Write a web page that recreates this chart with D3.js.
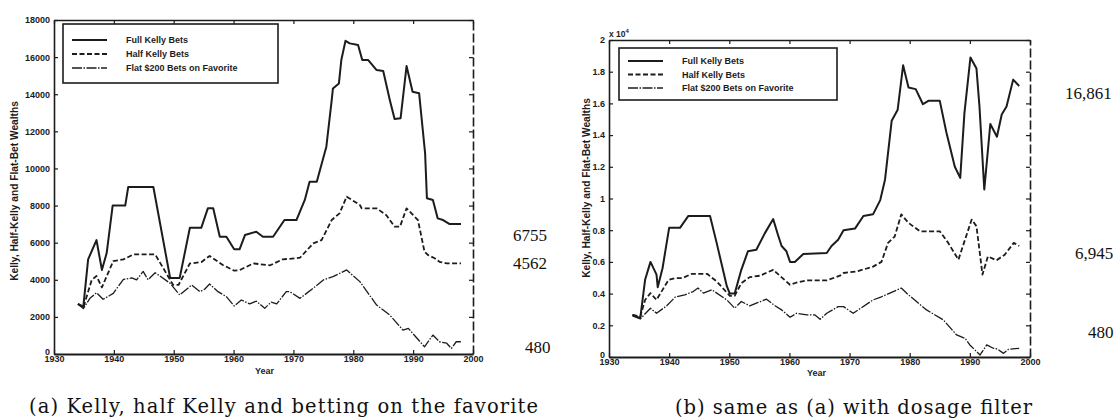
<!DOCTYPE html>
<html><head><meta charset="utf-8">
<script src="https://cdn.jsdelivr.net/npm/d3@7"></script>
<style>body{margin:0;background:#fff}svg{display:block}</style>
</head><body>
<svg id="c" width="1114" height="419"></svg>
<script>
// ---------- DATA ----------
const xTickYears = [1930, 1940, 1950, 1960, 1970, 1980, 1990, 2000];
const aYTicks = [0, 2000, 4000, 6000, 8000, 10000, 12000, 14000, 16000, 18000];
const bYTicks = [0, 2000, 4000, 6000, 8000, 10000, 12000, 14000, 16000, 18000, 20000];
const seriesNames = ["Full Kelly Bets", "Half Kelly Bets", "Flat $200 Bets on Favorite"];

// Panel (a): Kelly, half Kelly and betting on the favorite
const aFullYears = [1934.0,1934.9,1935.7,1937.1,1938.0,1938.8,1939.8,1941.9,1942.4,1946.6,1949.4,1951.0,1952.7,1954.6,1955.7,1956.6,1957.7,1958.8,1960.1,1961.0,1961.9,1963.8,1964.9,1966.6,1968.5,1970.5,1971.9,1972.7,1973.9,1975.5,1976.4,1976.6,1977.6,1978.0,1978.7,1979.4,1980.8,1981.5,1982.5,1983.9,1985.0,1986.1,1986.9,1987.9,1988.9,1989.9,1991.0,1992.0,1992.3,1993.3,1994.1,1995.0,1996.1,1998.0];
const aFullValues = [2700,2550,5100,6140,4530,5440,8000,8000,9000,9000,4100,4100,6800,6800,7850,7850,6320,6320,5640,5640,6410,6590,6320,6320,7220,7220,8300,9280,9280,11170,13690,14310,14580,15840,16880,16740,16650,15840,15840,15300,15250,13690,12660,12700,15520,14130,14050,10810,8390,8300,7310,7220,7000,7000];

const aHalfYears = [1934.0,1934.9,1936.3,1937.1,1938.0,1939.9,1941.6,1943.3,1946.9,1949.9,1950.8,1952.7,1954.6,1956.0,1958.2,1960.1,1961.0,1963.3,1966.1,1968.2,1970.5,1971.1,1973.3,1974.7,1976.4,1977.7,1978.9,1981.1,1981.4,1983.9,1985.5,1986.9,1987.8,1988.9,1990.0,1990.8,1991.9,1992.5,1993.6,1994.4,1995.6,1998.0];
const aHalfValues = [2700,2500,3990,4200,3590,5010,5100,5370,5370,3720,3720,4880,4950,5280,4800,4490,4520,4880,4780,5100,5160,5190,5960,6140,7220,7580,8480,8030,7850,7850,7490,6860,6860,7850,7490,7220,5510,5330,5160,4970,4880,4880];

const aFlatYears = [1934.0,1934.9,1936.0,1937.1,1938.2,1939.3,1939.9,1941.6,1943.0,1943.8,1944.9,1945.7,1946.9,1947.7,1949.4,1951.0,1951.8,1953.0,1954.4,1955.2,1956.0,1957.4,1958.8,1960.1,1961.3,1962.7,1963.8,1965.2,1966.3,1967.2,1968.8,1969.4,1971.1,1973.3,1975.0,1976.6,1978.9,1981.1,1983.9,1986.1,1988.3,1989.2,1991.9,1993.3,1994.4,1995.6,1996.4,1997.2,1998.0];
const aFlatValues = [2700,2450,3000,3300,2950,3150,3270,4020,4100,4000,4450,4000,4380,4200,3810,3180,3400,3720,3360,3500,3770,3360,3090,2590,2910,2700,2850,2460,2800,2700,3360,3360,3000,3540,3990,4170,4530,3900,2640,2100,1290,1380,390,1020,660,580,300,660,660];

const aEndLabels = ["6755", "4562", "480"];

// Panel (b): same as (a) with dosage filter
const bFullYears = [1933.9,1935.2,1936.0,1936.9,1937.9,1938.1,1938.9,1940.0,1941.8,1943.2,1946.8,1947.9,1949.6,1950.1,1950.9,1952.0,1953.1,1954.5,1955.9,1957.3,1958.1,1958.7,1959.5,1960.1,1960.9,1962.3,1966.2,1967.0,1968.1,1969.0,1970.9,1972.3,1973.9,1975.1,1975.9,1977.0,1978.0,1978.9,1979.8,1981.0,1982.2,1983.1,1985.0,1986.1,1987.5,1988.4,1989.1,1990.1,1991.1,1991.6,1992.4,1993.4,1994.5,1995.3,1996.1,1997.2,1998.2];
const bFullValues = [2660,2450,4870,6000,5200,4400,5600,8150,8150,8900,8900,7200,4450,4000,4000,5500,6670,6770,7800,8700,7700,7000,6670,6000,6000,6500,6560,7000,7400,8000,8100,8900,9000,9900,11200,14900,15600,18400,17000,16900,15950,16160,16160,14160,12000,11300,15400,18900,18200,15800,10570,14700,13900,15300,15800,17500,17100];

const bHalfYears = [1933.9,1935.2,1936.0,1936.9,1937.9,1939.9,1941.0,1942.2,1943.8,1946.3,1947.9,1950.1,1950.9,1952.0,1953.4,1955.1,1957.3,1958.4,1960.1,1961.2,1962.9,1966.2,1968.4,1969.0,1971.2,1973.9,1975.3,1976.4,1977.5,1978.6,1979.8,1981.7,1985.0,1986.4,1988.1,1990.3,1991.1,1992.1,1993.0,1994.4,1995.8,1997.3,1998.2];
const bHalfValues = [2660,2550,3600,4030,3600,4870,4980,4980,5250,5250,4770,3860,3860,4660,5040,5130,5500,5130,4560,4700,4830,4830,5130,5300,5400,5700,6000,7200,7600,9000,8460,7930,7930,7200,6140,8670,8250,5200,6350,6100,6450,7200,7000];

const bFlatYears = [1933.9,1935.2,1936.9,1937.9,1939.6,1941.0,1942.6,1944.0,1944.8,1945.7,1947.1,1949.6,1950.9,1952.0,1953.4,1954.8,1956.2,1957.6,1958.7,1960.1,1961.2,1962.9,1964.2,1965.1,1966.2,1968.1,1969.0,1970.6,1973.9,1975.3,1978.6,1979.8,1982.8,1985.6,1987.8,1989.2,1990.0,1991.7,1992.8,1993.9,1994.6,1995.6,1996.4,1998.2];
const bFlatValues = [2600,2400,3080,2760,3230,3780,3920,4130,4350,4030,4240,3600,3080,3500,3230,3440,3650,3230,2970,2510,2760,2660,2660,2380,2760,3180,3180,2760,3600,3800,4350,3920,2970,2340,1390,1180,760,130,760,550,500,230,480,550];

const bEndLabels = ["16,861", "6,945", "480"];

const captions = ["(a) Kelly, half Kelly and betting on the favorite", "(b) same as (a) with dosage filter"];

// ---------- DRAW ----------
const svg = d3.select("#c");
const INK = "#1c1c1c";
const SANS = "'Liberation Sans', Arial, sans-serif";
const styles = [
  {w: 2.0, dash: null},
  {w: 1.8, dash: "5,2.5"},
  {w: 1.3, dash: "10,1.5,1.5,1.5"}
];

function zip(ys, vs) { return ys.map((y, i) => [y, vs[i]]); }

function panel(cfg) {
  const g = svg.append("g");
  const x = d3.scaleLinear().domain([1930, 2000]).range([cfg.x0, cfg.x1]);
  const y = d3.scaleLinear().domain([0, cfg.ymax]).range([cfg.y0, cfg.y1]);

  const fontAxis = sel => {
    sel.selectAll("text").attr("font-family", SANS).attr("font-weight", "bold")
      .attr("font-size", 9).attr("fill", INK);
    sel.selectAll("line").attr("stroke", INK).attr("stroke-width", 1.2);
  };

  // top & right mirror axes
  g.append("g").attr("transform", `translate(0,${cfg.y1})`)
    .call(d3.axisTop(x).tickValues(xTickYears).tickSize(-4).tickSizeOuter(0).tickFormat(""))
    .call(fontAxis).call(s => s.select(".domain").attr("stroke", INK).attr("stroke-width", 1.6));
  g.append("g").attr("transform", `translate(${cfg.x1},0)`)
    .call(d3.axisRight(y).tickValues(cfg.yTicks).tickSize(-4).tickSizeOuter(0).tickFormat(""))
    .call(fontAxis).call(s => s.select(".domain").attr("stroke", INK).attr("stroke-width", 1.6).attr("stroke-dasharray", "9,3"));

  // bottom axis
  g.append("g").attr("transform", `translate(0,${cfg.y0})`)
    .call(d3.axisBottom(x).tickValues(xTickYears).tickSize(-4).tickSizeOuter(0).tickPadding(2).tickFormat(d3.format("d")))
    .call(fontAxis).call(s => s.select(".domain").attr("stroke", INK).attr("stroke-width", 2));
  // left axis
  g.append("g").attr("transform", `translate(${cfg.x0},0)`)
    .call(d3.axisLeft(y).tickValues(cfg.yTicks).tickSize(-4).tickSizeOuter(0).tickPadding(cfg.ypad).tickFormat(cfg.fmt))
    .call(fontAxis)
    .call(s => s.select(".domain").attr("stroke", INK).attr("stroke-width", 1.6))
    .call(s => s.selectAll(".tick").filter(d => d === 0).select("text").attr("dy", "0.0em"));

  // series
  const line = d3.line().x(d => x(d[0])).y(d => y(d[1]));
  cfg.series.forEach((s, i) => {
    g.append("path").datum(s).attr("d", line).attr("fill", "none")
      .attr("stroke", INK).attr("stroke-width", styles[i].w)
      .attr("stroke-linejoin", "round")
      .attr("stroke-dasharray", styles[i].dash);
  });

  // legend
  const L = cfg.legend;
  g.append("rect").attr("x", L.x).attr("y", L.y).attr("width", L.w).attr("height", L.h)
    .attr("fill", "#fff").attr("stroke", INK).attr("stroke-width", 1.6);
  seriesNames.forEach((n, i) => {
    const yy = L.y + L.r0 + i * L.dr;
    g.append("line").attr("x1", L.x + 9).attr("x2", L.x + 44).attr("y1", yy).attr("y2", yy)
      .attr("stroke", INK).attr("stroke-width", styles[i].w).attr("stroke-dasharray", styles[i].dash);
    g.append("text").attr("x", L.x + 63).attr("y", yy + 3.2).text(n)
      .attr("font-family", SANS).attr("font-weight", "bold").attr("font-size", 9).attr("fill", INK);
  });

  // axis titles
  g.append("text").attr("x", (cfg.x0 + cfg.x1) / 2 + cfg.yearDx).attr("y", cfg.yearY).text("Year")
    .attr("text-anchor", "middle").attr("font-family", SANS).attr("font-weight", "bold")
    .attr("font-size", 9).attr("fill", INK);
  g.append("text").attr("transform", `translate(${cfg.titleX},${cfg.titleY}) rotate(-90)`)
    .text("Kelly, Half-Kelly and Flat-Bet Wealths").attr("text-anchor", "middle")
    .attr("font-family", SANS).attr("font-weight", "bold").attr("font-size", 10.2).attr("fill", INK);

  // end value labels
  cfg.ends.forEach((e, i) => {
    g.append("text").attr("x", e[0]).attr("y", e[1]).text(cfg.endLabels[i])
      .attr("font-family", "'Liberation Serif', 'Times New Roman', serif").attr("font-size", 17).attr("fill", "#111");
  });

  // caption
  g.append("text").attr("x", cfg.cap[0]).attr("y", cfg.cap[1]).text(cfg.caption)
    .attr("font-family", "'DejaVu Serif', serif").attr("font-size", 19.5)
    .attr("textLength", cfg.cap[2]).attr("lengthAdjust", "spacing").attr("fill", "#111");
  return g;
}

panel({
  x0: 54, x1: 473, y0: 354, y1: 20, ymax: 18000, yTicks: aYTicks, ypad: 4,
  fmt: d3.format("d"),
  series: [zip(aFullYears, aFullValues), zip(aHalfYears, aHalfValues), zip(aFlatYears, aFlatValues)],
  legend: {x: 63, y: 24, w: 215, h: 59, r0: 16, dr: 14},
  yearDx: 1, yearY: 374, titleX: 18, titleY: 191,
  endLabels: aEndLabels, ends: [[513, 241], [513, 269], [525, 353]],
  caption: captions[0], cap: [29, 413, 509]
});

const g2 = panel({
  x0: 609, x1: 1030, y0: 357, y1: 40, ymax: 20000, yTicks: bYTicks, ypad: 4,
  fmt: d => d3.format("~g")(d / 10000),
  series: [zip(bFullYears, bFullValues), zip(bHalfYears, bHalfValues), zip(bFlatYears, bFlatValues)],
  legend: {x: 619, y: 48, w: 218, h: 52, r0: 13, dr: 13.5},
  yearDx: -3, yearY: 376, titleX: 590, titleY: 188,
  endLabels: bEndLabels, ends: [[1065, 99], [1075, 259], [1088, 338]],
  caption: captions[1], cap: [675, 414, 357]
});

// exponent label "x 10^4"
const ex = g2.append("text").attr("x", 609).attr("y", 37)
  .attr("font-family", SANS).attr("font-weight", "bold").attr("font-size", 8.5).attr("fill", INK);
ex.append("tspan").text("x 10");
ex.append("tspan").text("4").attr("font-size", 6).attr("dy", -4);
</script>
</body></html>
